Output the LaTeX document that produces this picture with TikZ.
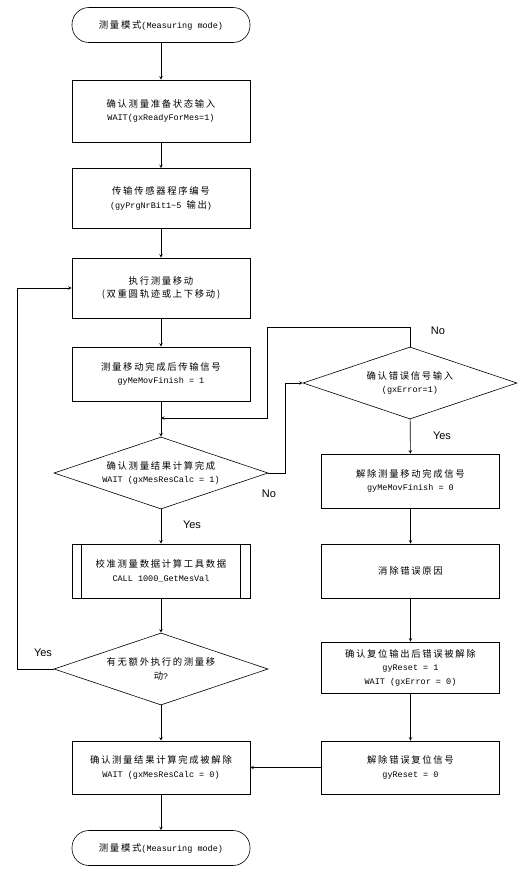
\documentclass[tikz,border=0pt]{standalone}
\usepackage{fontspec}
\usepackage{tikz}
\usetikzlibrary{shapes.geometric}
\setmainfont{Liberation Mono}
\newfontfamily\cjk[Scale=1.1,LetterSpace=18]{Noto Sans CJK SC}
\newfontfamily\labfont{Liberation Sans}
\newcommand\zh[1]{{\cjk #1}}
\tikzset{
  stepbox/.style={draw,line width=0.6pt,minimum width=178pt,align=center,inner sep=0pt,font=\fontsize{8.5}{13.5}\selectfont},
  termbox/.style={stepbox,rounded corners=17pt,minimum height=35pt},
  decbox/.style={draw,diamond,line width=0.6pt,minimum width=214pt,minimum height=72pt,shape aspect=3,align=center,inner sep=0pt,font=\fontsize{8.5}{13.5}\selectfont},
  flow/.style={draw,line width=0.6pt,-stealth},
  answer/.style={font=\labfont\fontsize{11}{12}\selectfont,inner sep=0pt}
}

\begin{document}
\begin{tikzpicture}[x=1pt,y=-1pt]
  \useasboundingbox (0,0) rectangle (525,879);
  % main column
  \node[termbox] (start) at (161,25) {\zh{测量模式}(Measuring mode)};
  \node[stepbox,minimum height=62pt] (ready) at (161,111) {\zh{确认测量准备状态输入}\\WAIT(gxReadyForMes=1)};
  \node[stepbox,minimum height=60pt] (prgnr) at (161,198.5) {\zh{传输传感器程序编号}\\(gyPrgNrBit1\textasciitilde5 \zh{输出})};
  \node[stepbox,minimum height=60pt] (move) at (161,288) {\zh{执行测量移动}\\\zh{(双重圆轨迹或上下移动)}};
  \node[stepbox,minimum height=54pt] (movfin) at (161,374) {\zh{测量移动完成后传输信号}\\gyMeMovFinish = 1};
  \node[decbox] (calcok) at (161,473) {\zh{确认测量结果计算完成}\\WAIT (gxMesResCalc = 1)};
  \node[stepbox,minimum height=54pt] (getval) at (161,571) {\zh{校准测量数据计算工具数据}\\CALL 1000\_GetMesVal};
  \draw[line width=0.6pt] ([xshift=10pt]getval.north west) -- ([xshift=10pt]getval.south west);
  \draw[line width=0.6pt] ([xshift=-10pt]getval.north east) -- ([xshift=-10pt]getval.south east);
  \node[decbox] (more) at (161,669) {\zh{有无额外执行的测量移}\\\zh{动}?};
  \node[stepbox,minimum height=53pt] (calcclr) at (161,767.5) {\zh{确认测量结果计算完成被解除}\\WAIT (gxMesResCalc = 0)};
  \node[termbox] (stop) at (161,848) {\zh{测量模式}(Measuring mode)};
  % error column
  \node[decbox] (errin) at (410,383) {\zh{确认错误信号输入}\\(gxError=1)};
  \node[stepbox,minimum height=54pt] (movclr) at (410.5,481) {\zh{解除测量移动完成信号}\\gyMeMovFinish = 0};
  \node[stepbox,minimum height=54pt] (cause) at (410.5,571) {\zh{消除错误原因}};
  \node[stepbox,minimum height=51pt] (reset) at (410.5,667.5) {\zh{确认复位输出后错误被解除}\\gyReset = 1\\WAIT (gxError = 0)};
  \node[stepbox,minimum height=53pt] (resetclr) at (410.5,767.5) {\zh{解除错误复位信号}\\gyReset = 0};
  \coordinate (join) at (161,418);
  % connectors
  \draw[flow] (start) -- (ready);
  \draw[flow] (ready) -- (prgnr);
  \draw[flow] (prgnr) -- (move);
  \draw[flow] (move) -- (movfin);
  \draw[flow] (movfin) -- (calcok);
  \draw[flow] (calcok) -- (getval);
  \draw[flow] (getval) -- (more);
  \draw[flow] (more) -- (calcclr);
  \draw[flow] (calcclr) -- (stop);
  \draw[flow] (more.west) -- ++(-36,0) |- (move.west);
  \draw[flow] (calcok.east) -- ++(17,0) |- (errin.west);
  \draw[flow] (errin.north) -- ++(0,-19) -| (267,418) -- (join);
  \draw[flow] (errin) -- (movclr);
  \draw[flow] (movclr) -- (cause);
  \draw[flow] (cause) -- (reset);
  \draw[flow] (reset) -- (resetclr);
  \draw[flow] (resetclr) -- (calcclr);
  % answers
  \node[answer] (yes1) at (192,525) {Yes};
  \node[answer] (no1) at (269,494) {No};
  \node[answer] (no2) at (438,331) {No};
  \node[answer] (yes2) at (442,436) {Yes};
  \node[answer] (yes3) at (43,653) {Yes};
\end{tikzpicture}
\end{document}
